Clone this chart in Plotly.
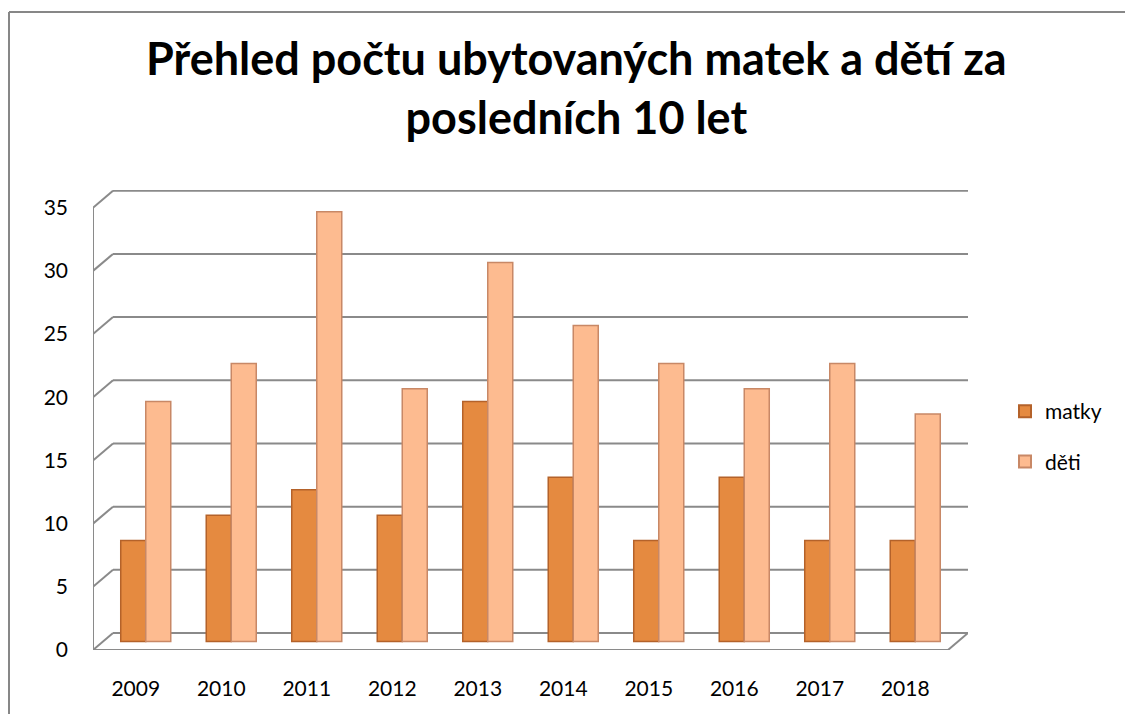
import plotly.graph_objects as go

years = ["2009", "2010", "2011", "2012", "2013", "2014", "2015", "2016", "2017", "2018"]
matky = [8, 10, 12, 10, 19, 13, 8, 13, 8, 8]
deti = [19, 22, 34, 20, 30, 25, 22, 20, 22, 18]
y_ticks = [0, 5, 10, 15, 20, 25, 30, 35]

title = "Přehled počtu ubytovaných matek a dětí za<br>posledních 10 let"
FONT = "Lato, 'Open Sans', sans-serif"

# page body has an 8px margin -> figure is sized to fill the rest of the window
W, H = 1125, 706
ML, MR, MT, MB = 85, 165, 182, 64
PLOT_W = W - ML - MR
PLOT_H = H - MT - MB

# pseudo-3D geometry (depth offsets in axis units)
Y_TOP = 36.4
DEPTH_Y = 1.344          # vertical offset from front to back wall
DEPTH_X = 0.234          # horizontal offset front -> back wall (categories)
n = len(years)
xs = list(range(n))

grid_col = "#8a8a8a"

fig = go.Figure()
fig.add_trace(go.Bar(
    x=xs, y=matky, name="matky", xaxis="x2", yaxis="y2", legendgroup="a",
    marker=dict(color="#e58a40", line=dict(color="#b4622a", width=1.5)),
))
fig.add_trace(go.Bar(
    x=xs, y=deti, name="děti", xaxis="x2", yaxis="y2", legendgroup="b",
    marker=dict(color="#fdbb90", line=dict(color="#c88866", width=1.5)),
))

shapes = []
x_left = -0.5
x_right = n - 0.5
for v in y_ticks:
    shapes.append(dict(type="line", xref="x", yref="y",
                       x0=x_left + DEPTH_X, x1=x_right + DEPTH_X,
                       y0=v + DEPTH_Y, y1=v + DEPTH_Y,
                       line=dict(color=grid_col, width=2), layer="below"))
    shapes.append(dict(type="line", xref="x", yref="y",
                       x0=x_left, x1=x_left + DEPTH_X,
                       y0=v, y1=v + DEPTH_Y,
                       line=dict(color=grid_col, width=2), layer="below"))
shapes.append(dict(type="line", xref="x", yref="y",
                   x0=x_left, x1=x_left, y0=0, y1=y_ticks[-1],
                   line=dict(color=grid_col, width=2), layer="below"))
shapes.append(dict(type="line", xref="x", yref="y",
                   x0=x_left, x1=x_right, y0=0, y1=0,
                   line=dict(color=grid_col, width=2), layer="below"))
shapes.append(dict(type="line", xref="x", yref="y",
                   x0=x_right, x1=x_right + DEPTH_X, y0=0, y1=DEPTH_Y,
                   line=dict(color=grid_col, width=2), layer="below"))
# outer chart border: only left and top edges lie inside the window
bx0 = (1 - ML) / PLOT_W
by1 = (PLOT_H + MT - 4) / PLOT_H
by0 = -MB / PLOT_H
bx1 = (W + 20 - ML) / PLOT_W
shapes.append(dict(type="line", xref="paper", yref="paper",
                   x0=bx0, x1=bx0, y0=by0, y1=by1,
                   line=dict(color="#878787", width=2), layer="below"))
shapes.append(dict(type="line", xref="paper", yref="paper",
                   x0=bx0, x1=bx1, y0=by1, y1=by1,
                   line=dict(color="#878787", width=2), layer="below"))

fig.update_layout(
    width=W, height=H,
    margin=dict(l=ML, r=MR, t=MT, b=MB, autoexpand=False),
    paper_bgcolor="white", plot_bgcolor="rgba(0,0,0,0)",
    font=dict(family=FONT, color="black"),
    barmode="group", bargap=0.415, bargroupgap=0,
    xaxis=dict(range=[x_left, x_right + DEPTH_X], tickmode="array",
               tickvals=xs, ticktext=years, showgrid=False, zeroline=False,
               showline=False, ticks="", ticklabelstandoff=24,
               tickfont=dict(size=21, family=FONT)),
    xaxis2=dict(range=[x_left - DEPTH_X / 2, x_right + DEPTH_X / 2],
                overlaying="x", visible=False),
    yaxis=dict(range=[0, Y_TOP], tickmode="array", tickvals=y_ticks,
               showgrid=False, zeroline=False, showline=False, ticks="",
               ticklabelstandoff=24, tickfont=dict(size=21, family=FONT)),
    yaxis2=dict(range=[-DEPTH_Y / 2, Y_TOP - DEPTH_Y / 2],
                overlaying="y", visible=False),
    legend=dict(x=(1005 - 8 - ML) / PLOT_W, y=(PLOT_H + MT - (391 - 8)) / PLOT_H,
                xanchor="left", yanchor="top",
                font=dict(size=21, family=FONT), tracegroupgap=20,
                itemwidth=30, itemsizing="constant", traceorder="grouped"),
    annotations=[dict(text="<b>" + title + "</b>", xref="paper", yref="paper",
                      x=(568 - ML) / PLOT_W, y=(PLOT_H + MT - 80) / PLOT_H,
                      xanchor="center", yanchor="middle", showarrow=False,
                      font=dict(size=45, family=FONT, color="black"))],
    shapes=shapes,
)

fig.write_html("out.html")
